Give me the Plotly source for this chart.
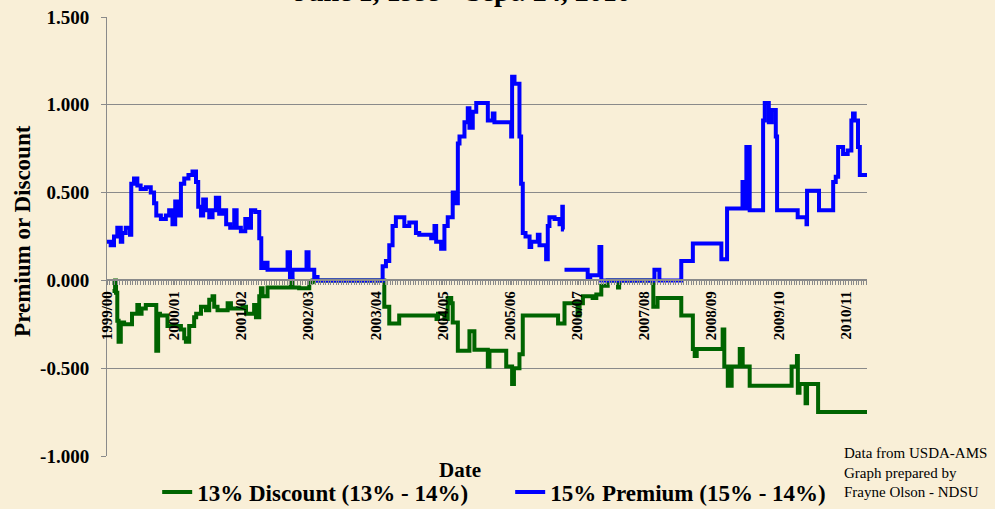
import plotly.graph_objects as go

# ---------------- data ----------------
disc_dates = [
    "1999-07-01", "1999-07-15", "1999-07-20", "1999-07-27", "1999-08-03", "1999-08-15",
    "1999-09-02", "1999-10-15", "1999-11-13", "1999-11-22", "1999-12-06", "1999-12-29",
    "2000-02-24", "2000-03-05", "2000-03-15", "2000-04-25", "2000-07-07", "2000-07-25",
    "2000-08-03", "2000-08-21", "2000-09-17", "2000-09-28", "2000-10-24", "2000-11-20",
    "2000-12-08", "2000-12-26", "2001-01-04", "2001-01-22", "2001-03-18", "2001-04-05",
    "2001-06-07", "2001-06-26", "2001-08-09", "2001-08-19", "2001-09-06", "2001-09-15",
    "2001-09-24", "2001-10-21", "2002-02-25", "2002-03-06", "2002-04-11", "2002-06-05",
    "2002-06-23", "2003-07-18", "2003-08-14", "2003-10-07", "2004-04-27", "2004-05-05",
    "2004-06-09", "2004-06-27", "2004-07-16", "2004-07-24", "2004-08-21", "2004-10-23",
    "2004-11-19", "2005-01-31", "2005-02-09", "2005-05-11", "2005-06-12", "2005-06-22",
    "2005-07-22", "2005-08-09", "2006-02-17", "2006-03-24", "2006-06-03", "2006-06-14",
    "2006-07-02", "2006-08-24", "2006-09-13", "2006-10-10", "2006-11-14", "2007-01-09",
    "2007-01-15", "2007-07-20", "2007-08-12", "2007-12-19", "2008-02-20", "2008-03-01",
    "2008-03-12", "2008-07-31", "2008-08-09", "2008-08-28", "2008-09-18", "2008-11-01",
    "2008-11-17", "2008-12-25", "2009-08-10", "2009-09-08", "2009-09-13", "2009-09-22",
    "2009-10-25", "2009-11-02", "2010-01-01", "2010-09-24",
]
disc_values = [
    -0.06, 0.00, -0.07, -0.23, -0.35, -0.24,
    -0.25, -0.19, -0.14, -0.19, -0.16, -0.14,
    -0.40, -0.19, -0.20, -0.26, -0.28, -0.33,
    -0.35, -0.26, -0.21, -0.19, -0.15, -0.17,
    -0.11, -0.09, -0.15, -0.17, -0.13, -0.16,
    -0.15, -0.19, -0.14, -0.21, -0.09, -0.045,
    -0.09, -0.04, 0.00, -0.04, -0.045, -0.01,
    0.00, -0.15, -0.245, -0.20, -0.22, -0.19,
    -0.22, -0.10, -0.13, -0.24, -0.40, -0.29,
    -0.395, -0.49, -0.40, -0.49, -0.59, -0.50,
    -0.42, -0.20, -0.245, -0.13, -0.20, -0.13,
    -0.09, -0.10, -0.08, -0.03, 0.00, -0.04,
    0.00, -0.15, -0.10, -0.20, -0.39, -0.43,
    -0.39, -0.28, -0.49, -0.60, -0.49, -0.39,
    -0.49, -0.60, -0.49, -0.43, -0.64, -0.59,
    -0.70, -0.59, -0.75, -0.75,
]

prem_dates = [
    "1999-06-01", "1999-06-21", "1999-07-09", "1999-07-27", "1999-08-15", "1999-08-23",
    "1999-09-11", "1999-10-04", "1999-10-11", "1999-10-26", "1999-11-13", "1999-12-01",
    "1999-12-29", "2000-01-25", "2000-02-12", "2000-02-24", "2000-03-20", "2000-04-16",
    "2000-05-04", "2000-05-22", "2000-06-06", "2000-06-18", "2000-07-07", "2000-07-25",
    "2000-08-17", "2000-09-08", "2000-09-27", "2000-10-09", "2000-10-24", "2000-11-05",
    "2000-11-20", "2000-12-08", "2000-12-26", "2001-01-13", "2001-01-31", "2001-02-18",
    "2001-03-10", "2001-04-01", "2001-04-23", "2001-05-06", "2001-05-29", "2001-06-22",
    "2001-07-10", "2001-07-23", "2001-08-15", "2001-09-06", "2001-09-17", "2001-10-03",
    "2001-10-21", "2002-02-07", "2002-02-20", "2002-03-06", "2002-05-21", "2002-06-01",
    "2002-07-02", "2002-07-20", "2003-07-09", "2003-07-27", "2003-08-14", "2003-09-01",
    "2003-09-19", "2003-11-04", "2003-12-01", "2004-01-06", "2004-01-24", "2004-03-29",
    "2004-04-16", "2004-04-25", "2004-05-22", "2004-06-09", "2004-06-27", "2004-07-24",
    "2004-08-12", "2004-08-21", "2004-08-30", "2004-09-26", "2004-10-14", "2004-10-23",
    "2004-11-10", "2004-11-29", "2005-01-31", "2005-02-27", "2005-03-08", "2005-06-07",
    "2005-06-12", "2005-06-25", "2005-07-22", "2005-07-31", "2005-08-09", "2005-08-24",
    "2005-09-15", "2005-09-24", "2005-10-30", "2005-11-08", "2005-12-14", "2005-12-23",
    "2006-01-01", "2006-01-29", "2006-02-25", "2006-03-12", "2006-03-15", "2006-03-21",
    "2006-03-22", "2006-03-24", "2006-07-28", "2006-08-11", "2006-09-30", "2006-10-10",
    "2007-07-26", "2007-08-22", "2007-12-19", "2008-02-20", "2008-07-24", "2008-08-24",
    "2008-11-16", "2008-11-25", "2008-12-07", "2008-12-25", "2009-03-08", "2009-03-17",
    "2009-04-08", "2009-04-24", "2009-05-16", "2009-05-23", "2009-09-12", "2009-10-30",
    "2009-11-02", "2010-01-06", "2010-03-24", "2010-04-07", "2010-04-20", "2010-05-17",
    "2010-06-11", "2010-07-01", "2010-07-10", "2010-07-19", "2010-08-06", "2010-08-16",
    "2010-09-24",
]
prem_values = [
    0.22, 0.20, 0.25, 0.30, 0.22, 0.27,
    0.30, 0.26, 0.55, 0.58, 0.54, 0.52,
    0.53, 0.50, 0.44, 0.37, 0.35, 0.37,
    0.40, 0.32, 0.45, 0.37, 0.55, 0.58,
    0.60, 0.62, 0.56, 0.42, 0.37, 0.46,
    0.40, 0.36, 0.40, 0.47, 0.38, 0.40,
    0.32, 0.30, 0.40, 0.30, 0.28, 0.35,
    0.30, 0.40, 0.39, 0.24, 0.07, 0.10,
    0.06, 0.16, 0.02, 0.06, 0.16, 0.06,
    0.02, 0.00, 0.08, 0.11, 0.20, 0.31,
    0.36, 0.31, 0.33, 0.27, 0.26, 0.24,
    0.31, 0.22, 0.18, 0.31, 0.36, 0.50,
    0.44, 0.78, 0.82, 0.90, 0.98, 0.87,
    0.96, 1.01, 0.91, 0.95, 0.90, 0.82,
    1.16, 1.12, 0.82, 0.55, 0.27, 0.25,
    0.19, 0.22, 0.26, 0.20, 0.12, 0.31,
    0.36, 0.35, 0.32, 0.42, 0.29, 0.29,
    None, 0.06, 0.02, 0.03, 0.19, 0.00,
    0.06, 0.00, 0.11, 0.21, 0.12, 0.41,
    0.56, 0.41, 0.76, 0.40, 0.91, 1.01,
    0.90, 0.97, 0.82, 0.40, 0.36, 0.32,
    0.51, 0.40, 0.56, 0.59, 0.76, 0.72,
    0.74, 0.91, 0.95, 0.91, 0.76, 0.60,
    0.60,
]

year_ticks = ["1999-06-01", "2000-06-01", "2001-06-01", "2002-06-01", "2003-06-01",
              "2004-06-01", "2005-06-01", "2006-06-01", "2007-06-01", "2008-06-01",
              "2009-06-01", "2010-06-01"]
year_labels = ["1999/00", "2000/01", "2001/02", "2002/03", "2003/04", "2004/05",
               "2005/06", "2006/07", "2007/08", "2008/09", "2009/10", "2010/11"]

y_ticks = [-1.0, -0.5, 0.0, 0.5, 1.0, 1.5]

FONT = "Liberation Serif, Times New Roman, serif"
BG = "#F9EFD7"
GRID = "#8a8a8a"

fig = go.Figure()
fig.add_trace(go.Scatter(
    x=disc_dates, y=disc_values, mode="lines", line=dict(color="#006400", width=4, shape="hv"),
    name="<b>13% Discount (13% - 14%)</b>"))
fig.add_trace(go.Scatter(
    x=prem_dates, y=prem_values, mode="lines", line=dict(color="#0000FF", width=4, shape="hv"),
    name="<b>15% Premium (15% - 14%)</b>", connectgaps=False))

fig.update_layout(
    width=995, height=509,
    margin=dict(l=107, r=128, t=17, b=53, autoexpand=False),
    paper_bgcolor=BG, plot_bgcolor=BG,
    font=dict(family=FONT, color="black"),
    showlegend=True,
    legend=dict(orientation="h", x=0.5305, xanchor="center", y=-0.082, yanchor="middle",
                font=dict(family=FONT, size=23, color="black"), bgcolor="rgba(0,0,0,0)",
                itemwidth=30, traceorder="normal", entrywidth=308),
    xaxis=dict(
        type="date", range=["1999-06-01", "2010-09-24"],
        anchor="free", position=0.4,
        tickmode="array", tickvals=year_ticks,
        ticktext=["<b>%s</b>" % t for t in year_labels],
        tickangle=-90, tickfont=dict(family=FONT, size=15, color="black"),
        showline=True, linecolor=GRID, linewidth=1.5,
        ticks="outside", ticklen=4, tickcolor=GRID,
        minor=dict(ticks="outside", ticklen=4, tickcolor=GRID, dtick=14 * 86400000,
                   tick0="1999-06-01", showgrid=False),
        showgrid=False, zeroline=False,
    ),
    yaxis=dict(
        range=[-1.0, 1.5], tickmode="array", tickvals=y_ticks,
        ticktext=["<b>%.3f</b>" % v for v in y_ticks],
        tickfont=dict(family=FONT, size=19, color="black"),
        showline=True, linecolor=GRID, linewidth=1,
        ticks="outside", ticklen=5, tickcolor=GRID, ticklabelstandoff=8,
        showgrid=True, gridcolor=GRID, gridwidth=1, zeroline=False,
    ),
)

fig.add_annotation(text="<b>June 1, 1999 - Sept. 24, 2010</b>", xref="paper", yref="paper",
                   x=0.468, y=1.0, xanchor="center", yanchor="bottom", yshift=8, showarrow=False,
                   font=dict(family=FONT, size=28, color="black"))
fig.add_annotation(text="<b>Premium or Discount</b>", xref="paper", yref="paper",
                   x=-0.112, y=0.5125, xanchor="center", yanchor="middle", textangle=-90,
                   showarrow=False, font=dict(family=FONT, size=23, color="black"))
fig.add_annotation(text="<b>Date</b>", xref="paper", yref="paper",
                   x=0.4645, y=-0.032, xanchor="center", yanchor="middle", showarrow=False,
                   font=dict(family=FONT, size=21, color="black"))
fig.add_annotation(text="Data from USDA-AMS<br>Graph prepared by<br>Frayne Olson - NDSU",
                   xref="paper", yref="paper", x=0.967, y=0.03, xanchor="left", yanchor="top",
                   align="left", showarrow=False,
                   font=dict(family=FONT, size=15, color="black"))

fig.write_html("out.html", config={"displayModeBar": False},
               post_script="document.body.style.margin='0';document.body.style.overflow='hidden';")
